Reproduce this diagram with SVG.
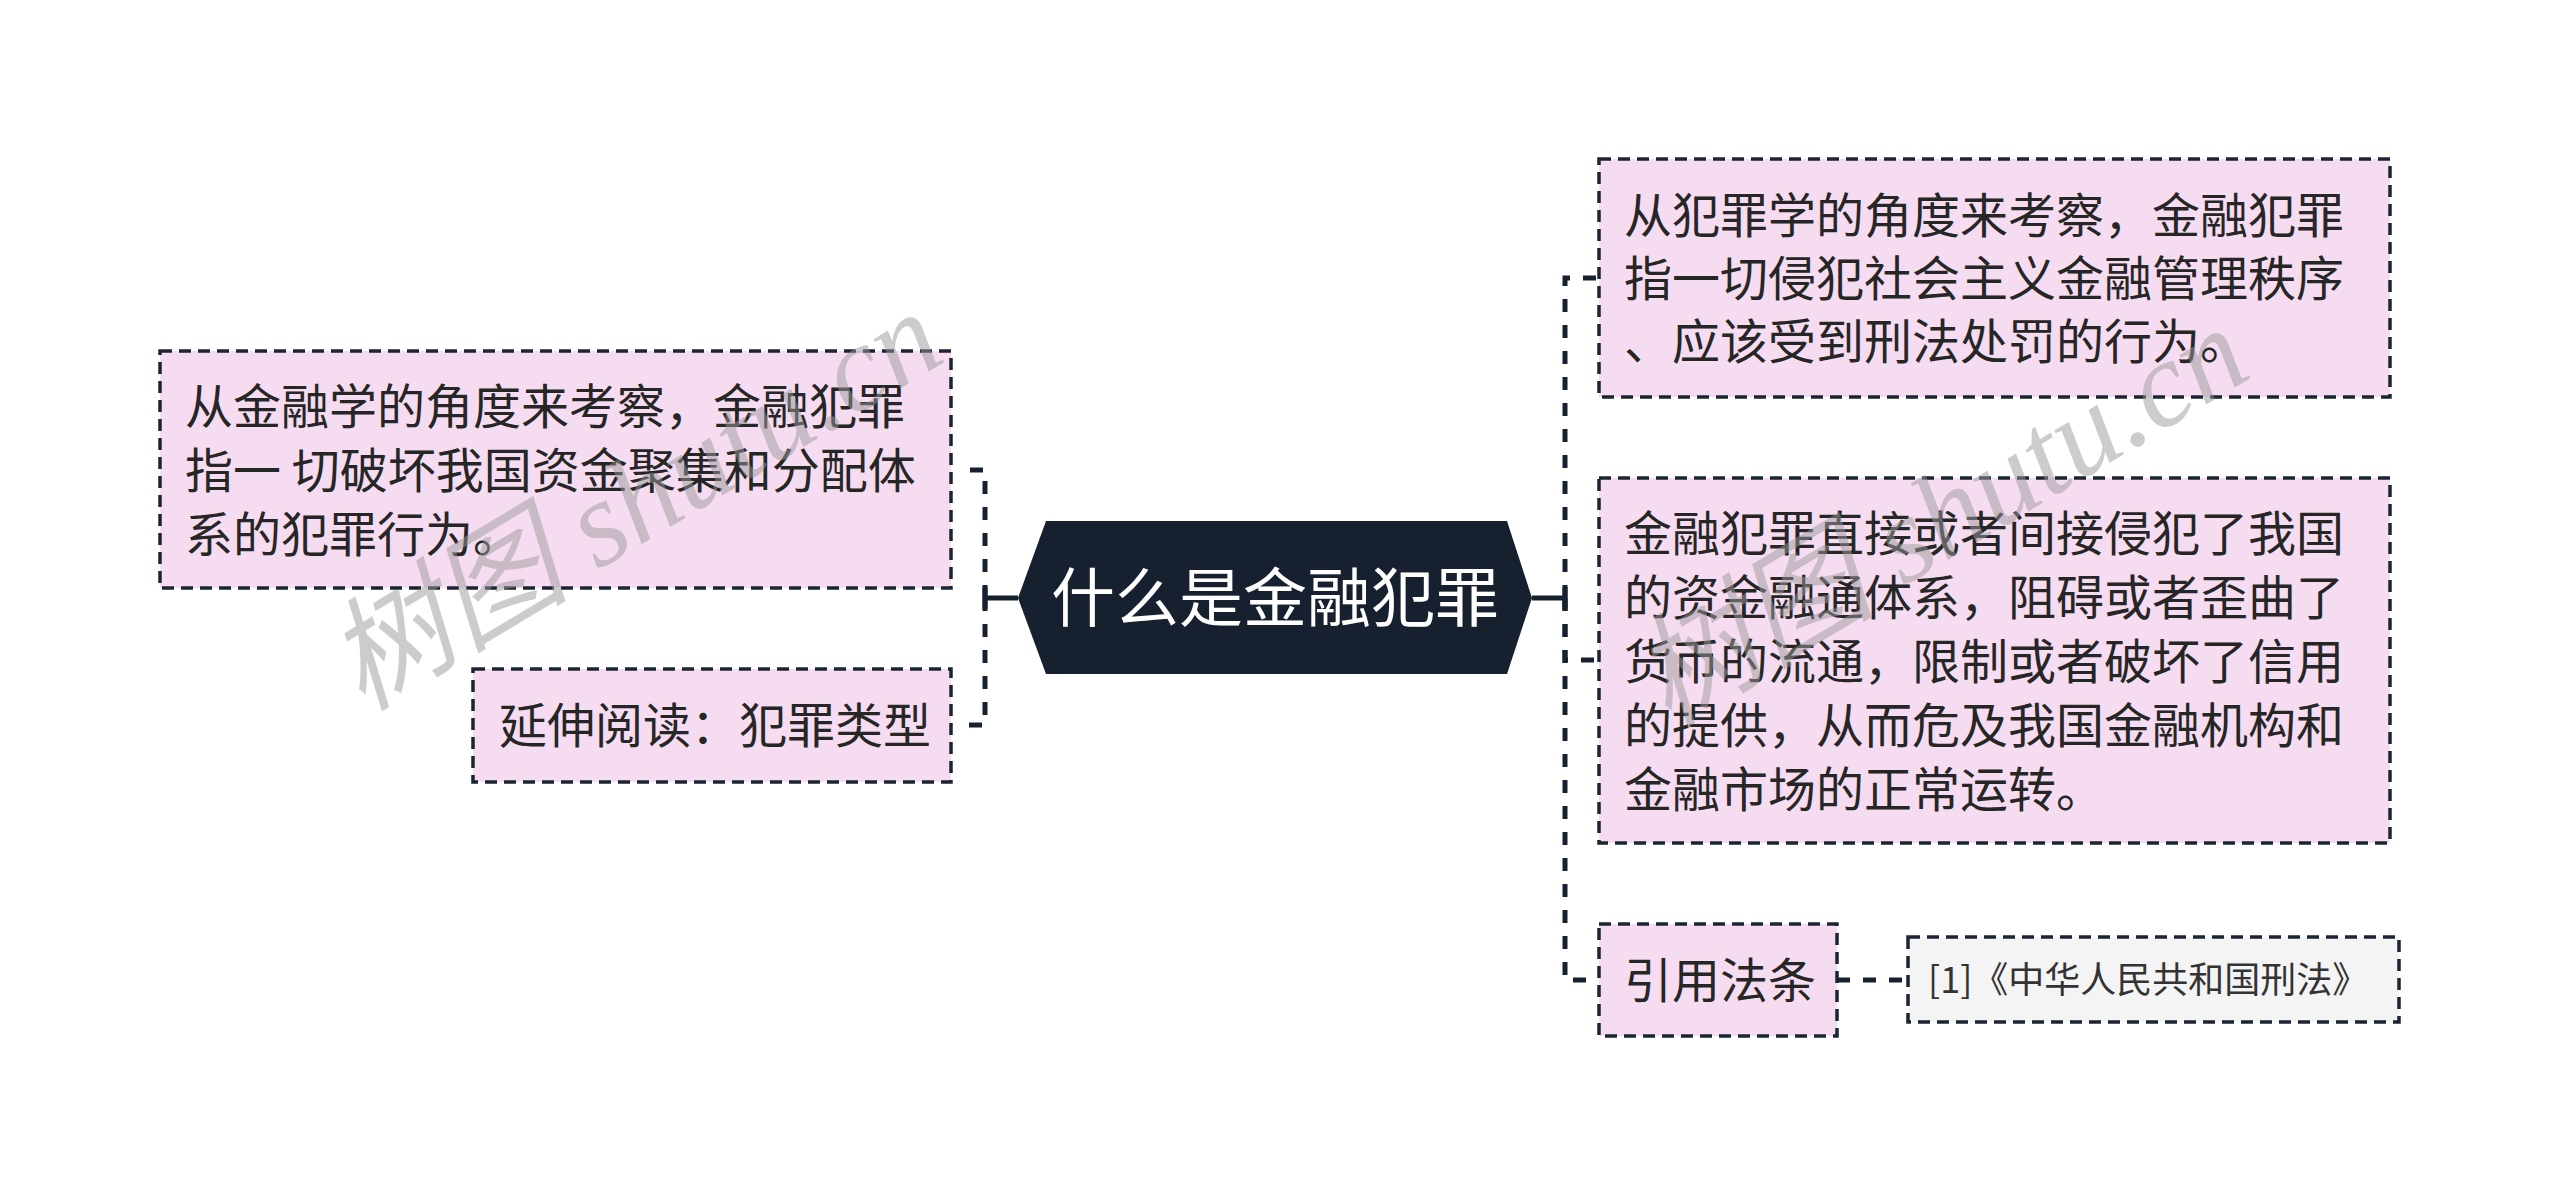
<svg xmlns="http://www.w3.org/2000/svg" width="2560" height="1195" viewBox="0 0 2560 1195">
<style>
.box{fill:#f6dcf0;stroke:#1b2433;stroke-width:3.5;stroke-dasharray:12 7}
.ref{fill:#f4f4f4;stroke:#1b2433;stroke-width:3.5;stroke-dasharray:12 7}
.t{font-family:"Noto Sans CJK SC","Noto Sans",sans-serif;font-size:48px;fill:#262626}
.ts{font-family:"Noto Sans CJK SC","Noto Sans",sans-serif;font-size:36px;fill:#333333}
.title{font-family:"Noto Sans CJK SC","Noto Sans",sans-serif;font-size:64px;fill:#ffffff}
.c{fill:none;stroke:#17202e;stroke-width:5;stroke-dasharray:13 13}
.cs{fill:none;stroke:#17202e;stroke-width:5}
.wm{font-family:"Liberation Serif","Noto Sans CJK SC",serif;font-style:italic;font-size:122px;fill:#9a9a9a;fill-opacity:0.5}
</style>
<rect width="2560" height="1195" fill="#ffffff"/>
<g id="connectors">
<path class="cs" d="M1018,598 H985 M985,587 V609"/>
<path class="c" d="M985,598 V470 H960"/>
<path class="c" d="M985,598 V725 H960"/>
<path class="cs" d="M1532,598 H1565 M1565,587 V609"/>
<path class="c" d="M1565,598 V278 H1599"/>
<path class="c" d="M1565,598 V660 H1599"/>
<path class="c" d="M1565,598 V980 H1599"/>
<path class="c" d="M1837,980 H1908"/>
</g>
<g id="center">
<polygon points="1018,598 1046,521 1507,521 1532,598 1507,674 1046,674" fill="#17202e"/>
<text class="title" x="1275" y="621" text-anchor="middle">什么是金融犯罪</text>
</g>
<g id="left1">
<rect class="box" x="160" y="351" width="791" height="237"/>
<text class="t" x="185" y="424">从金融学的角度来考察，金融犯罪</text>
<text class="t" x="185" y="488">指一 切破坏我国资金聚集和分配体</text>
<text class="t" x="185" y="552">系的犯罪行为。</text>
</g>
<g id="left2">
<rect class="box" x="473" y="669" width="478" height="113"/>
<text class="t" x="499" y="743">延伸阅读：犯罪类型</text>
</g>
<g id="right1">
<rect class="box" x="1599" y="159" width="791" height="238"/>
<text class="t" x="1624" y="233">从犯罪学的角度来考察，金融犯罪</text>
<text class="t" x="1624" y="296">指一切侵犯社会主义金融管理秩序</text>
<text class="t" x="1624" y="359">、应该受到刑法处罚的行为。</text>
</g>
<g id="right2">
<rect class="box" x="1599" y="478" width="791" height="365"/>
<text class="t" x="1624" y="551">金融犯罪直接或者间接侵犯了我国</text>
<text class="t" x="1624" y="615">的资金融通体系，阻碍或者歪曲了</text>
<text class="t" x="1624" y="679">货币的流通，限制或者破坏了信用</text>
<text class="t" x="1624" y="743">的提供，从而危及我国金融机构和</text>
<text class="t" x="1624" y="807">金融市场的正常运转。</text>
</g>
<g id="right3">
<rect class="box" x="1599" y="924" width="238" height="112"/>
<text class="t" x="1624" y="998">引用法条</text>
</g>
<g id="ref1">
<rect class="ref" x="1908" y="937" width="491" height="85"/>
<text class="ts" x="1928" y="993">[1]《中华人民共和国刑法》</text>
</g>
<g id="watermarks">
<text class="wm" transform="translate(362,712) rotate(-31)">树图 shutu.cn</text>
<text class="wm" transform="translate(1668,728) rotate(-31)">树图 shutu.cn</text>
</g>
</svg>
